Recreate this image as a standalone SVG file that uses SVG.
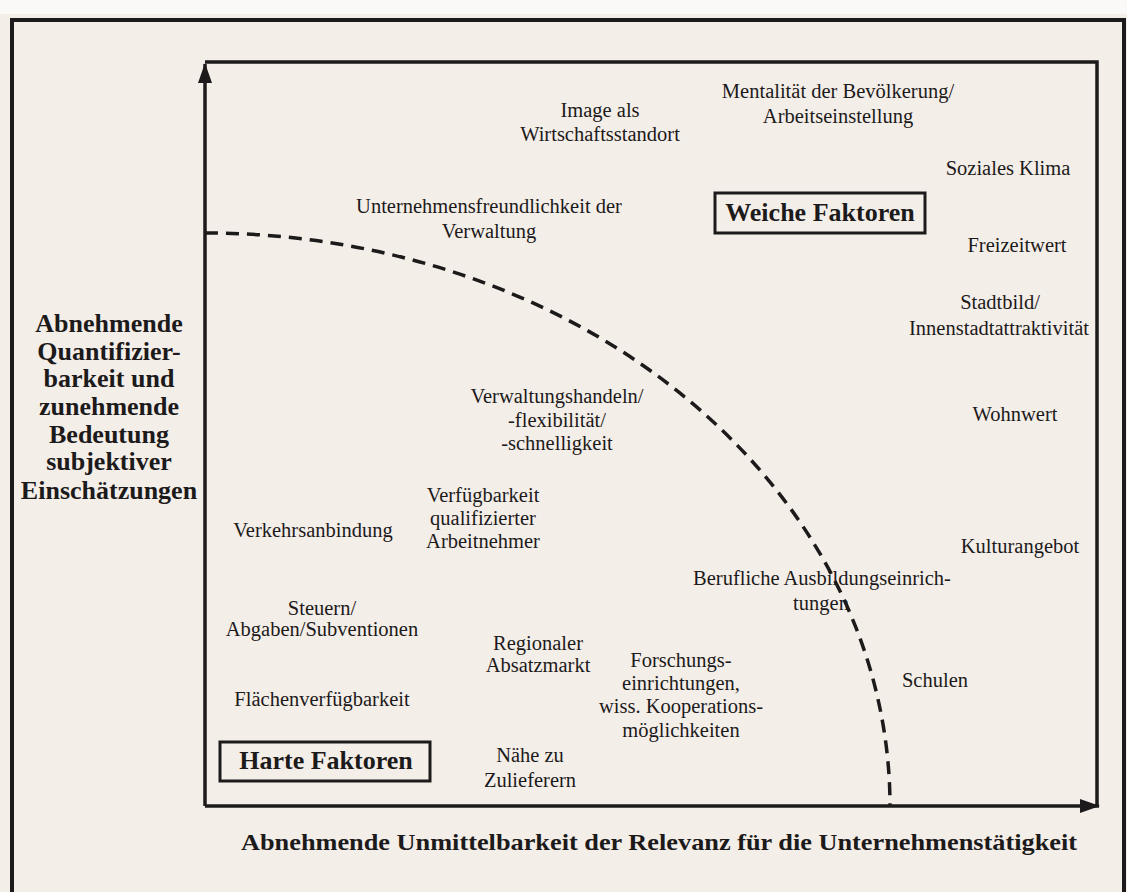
<svg xmlns="http://www.w3.org/2000/svg" width="1127" height="892" viewBox="0 0 1127 892">
<style>
.t{font-family:"Liberation Serif","Times New Roman",serif;font-size:20.5px;fill:#1c1a1a;text-anchor:middle}
.b{font-family:"Liberation Serif","Times New Roman",serif;font-weight:bold;fill:#1c1a1a;text-anchor:middle}
.frame{fill:none;stroke:#1c1a1a;stroke-width:4}
.ax{fill:none;stroke:#1c1a1a;stroke-width:3.5}
</style>
<defs>
<marker id="ah" viewBox="0 0 20 14" refX="19" refY="7" markerWidth="20" markerHeight="14" markerUnits="userSpaceOnUse" orient="auto">
<path d="M0,0 L20,7 L0,14 Z" fill="#1c1a1a"/>
</marker>
</defs>
<rect width="1127" height="892" fill="#f4eee9"/>
<rect width="1127" height="14" fill="#fbf9f7"/>
<g id="outer-frame">
<path class="frame" d="M12,892 V20 H1124 V892"/>
</g>
<g id="connectors">
<path class="ax" d="M205,62 H1097 V806"/>
<path class="ax" d="M205,806 V64" marker-end="url(#ah)"/>
<path class="ax" d="M205,806 H1099" marker-end="url(#ah)"/>
<path d="M205,233 A685,573 0 0,1 890,806" fill="none" stroke="#1c1a1a" stroke-width="3.5" stroke-dasharray="13,8"/>
</g>
<g id="y-label">
<text class="b" font-size="26" x="109" y="332">Abnehmende</text>
<text class="b" font-size="26" x="109" y="360">Quantifizier-</text>
<text class="b" font-size="26" x="109" y="387">barkeit und</text>
<text class="b" font-size="26" x="109" y="415">zunehmende</text>
<text class="b" font-size="26" x="109" y="443">Bedeutung</text>
<text class="b" font-size="26" x="109" y="470">subjektiver</text>
<text class="b" font-size="26" x="109" y="499">Einschätzungen</text>
</g>
<g id="x-label">
<text class="b" font-size="24" x="659" y="850" textLength="836" lengthAdjust="spacingAndGlyphs">Abnehmende Unmittelbarkeit der Relevanz für die Unternehmenstätigkeit</text>
</g>
<g id="weiche-faktoren">
<rect x="715" y="193" width="210" height="40" fill="none" stroke="#1c1a1a" stroke-width="3"/>
<text class="b" font-size="26" x="820" y="221">Weiche Faktoren</text>
</g>
<g id="harte-faktoren">
<rect x="220" y="742" width="210" height="39" fill="none" stroke="#1c1a1a" stroke-width="3"/>
<text class="b" font-size="26" x="326" y="769">Harte Faktoren</text>
</g>
<g id="image"><text class="t" x="600" y="117">Image als</text><text class="t" x="600" y="141">Wirtschaftsstandort</text></g>
<g id="mentalitaet"><text class="t" x="838" y="98">Mentalität der Bevölkerung/</text><text class="t" x="838" y="123">Arbeitseinstellung</text></g>
<g id="soziales-klima"><text class="t" x="1008" y="175">Soziales Klima</text></g>
<g id="freizeitwert"><text class="t" x="1017" y="252">Freizeitwert</text></g>
<g id="stadtbild"><text class="t" x="1000" y="309">Stadtbild/</text><text class="t" x="999" y="335">Innenstadtattraktivität</text></g>
<g id="unternehmensfreundlichkeit"><text class="t" x="489" y="213">Unternehmensfreundlichkeit der</text><text class="t" x="489" y="238">Verwaltung</text></g>
<g id="wohnwert"><text class="t" x="1015" y="421">Wohnwert</text></g>
<g id="verwaltungshandeln"><text class="t" x="557" y="403">Verwaltungshandeln/</text><text class="t" x="557" y="427">-flexibilität/</text><text class="t" x="557" y="450">-schnelligkeit</text></g>
<g id="verfuegbarkeit"><text class="t" x="483" y="502">Verfügbarkeit</text><text class="t" x="483" y="525">qualifizierter</text><text class="t" x="483" y="548">Arbeitnehmer</text></g>
<g id="verkehrsanbindung"><text class="t" x="313" y="537">Verkehrsanbindung</text></g>
<g id="kulturangebot"><text class="t" x="1020" y="553">Kulturangebot</text></g>
<g id="berufliche"><text class="t" x="822" y="585">Berufliche Ausbildungseinrich-</text><text class="t" x="821" y="610">tungen</text></g>
<g id="steuern"><text class="t" x="322" y="615">Steuern/</text><text class="t" x="322" y="636">Abgaben/Subventionen</text></g>
<g id="regionaler"><text class="t" x="538" y="650">Regionaler</text><text class="t" x="538" y="672">Absatzmarkt</text></g>
<g id="forschung"><text class="t" x="681" y="667">Forschungs-</text><text class="t" x="681" y="690">einrichtungen,</text><text class="t" x="681" y="713">wiss. Kooperations-</text><text class="t" x="681" y="737">möglichkeiten</text></g>
<g id="schulen"><text class="t" x="935" y="687">Schulen</text></g>
<g id="flaechen"><text class="t" x="322" y="706">Flächenverfügbarkeit</text></g>
<g id="naehe"><text class="t" x="530" y="762">Nähe zu</text><text class="t" x="530" y="787">Zulieferern</text></g>
</svg>
